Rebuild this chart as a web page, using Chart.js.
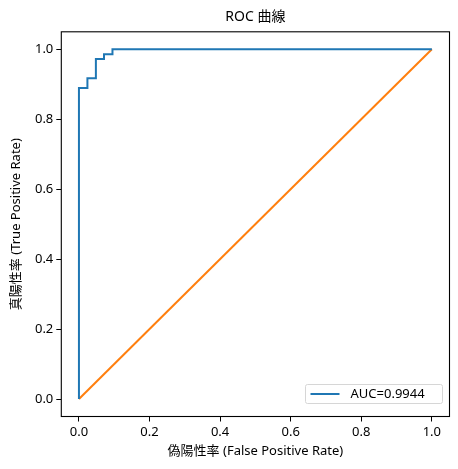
<!DOCTYPE html>
<html>
<head>
<meta charset="utf-8">
<script src="https://cdn.jsdelivr.net/npm/chart.js@4"></script>
<style>
  html, body { margin: 0; padding: 0; background: #fff; }
  #wrap { width: 458px; height: 469px; position: relative; }
</style>
</head>
<body>
<div id="wrap"><canvas id="roc"></canvas></div>
<script>
// ROC data
const fprValues = [0, 0, 0.024, 0.024, 0.048, 0.048, 0.071, 0.071, 0.095, 0.095, 1];
const tprValues = [0, 0.889, 0.889, 0.917, 0.917, 0.972, 0.972, 0.986, 0.986, 1, 1];
const chanceX = [0, 1];
const chanceY = [0, 1];
const tickValues = [0, 0.2, 0.4, 0.6, 0.8, 1.0];
const aucLabel = "AUC=0.9944";
const chartTitle = "ROC 曲線";

const FONT = "'Noto Sans', 'Noto Sans CJK JP', sans-serif";

const toPoints = (xs, ys) => xs.map((x, i) => ({ x: x, y: ys[i] }));

// title over the plot area, box round it, legend in lower right
const frameAndLegend = {
  id: "frameAndLegend",
  afterDraw(chart) {
    const { ctx, chartArea } = chart;
    ctx.save();
    ctx.fillStyle = "#000";
    ctx.font = "14px " + FONT;
    ctx.textAlign = "center";
    ctx.textBaseline = "middle";
    ctx.fillText(chartTitle, (chartArea.left + chartArea.right) / 2, 17);

    ctx.strokeStyle = "#000";
    ctx.lineWidth = 1.1;
    ctx.strokeRect(chartArea.left, chartArea.top,
      chartArea.right - chartArea.left, chartArea.bottom - chartArea.top);

    const ds = chart.data.datasets[0];
    const w = 137, h = 19;
    const x = chartArea.right - 7 - w;
    const y = chartArea.bottom - 13 - h;
    ctx.fillStyle = "rgba(255,255,255,0.8)";
    ctx.strokeStyle = "#d6d6d6";
    ctx.lineWidth = 1;
    ctx.beginPath();
    ctx.roundRect(x, y, w, h, 2);
    ctx.fill();
    ctx.stroke();
    ctx.strokeStyle = ds.borderColor;
    ctx.lineWidth = 2;
    ctx.beginPath();
    ctx.moveTo(x + 5, y + h / 2);
    ctx.lineTo(x + 34, y + h / 2);
    ctx.stroke();
    ctx.fillStyle = "#000";
    ctx.font = "13px " + FONT;
    ctx.textAlign = "left";
    ctx.fillText(ds.label, x + 45, y + h / 2 + 0.5);
    ctx.restore();
  }
};

const axisCommon = {
  type: "linear",
  min: -0.05,
  max: 1.05,
  border: { display: false },
  grid: {
    drawOnChartArea: false,
    drawTicks: true,
    tickLength: 5,
    tickColor: "#000",
    tickWidth: 1
  },
  afterBuildTicks: (scale) => {
    scale.ticks = tickValues.map(v => ({ value: v }));
  },
  ticks: {
    color: "#000",
    padding: 3,
    font: { family: FONT, size: 13 },
    callback: (v) => Number(v).toFixed(1)
  }
};

new Chart(document.getElementById("roc"), {
  type: "scatter",
  data: {
    datasets: [
      {
        label: aucLabel,
        data: toPoints(fprValues, tprValues),
        showLine: true,
        borderColor: "#1f77b4",
        borderWidth: 2,
        pointRadius: 0,
        tension: 0
      },
      {
        label: "",
        data: toPoints(chanceX, chanceY),
        showLine: true,
        borderColor: "#ff7f0e",
        borderWidth: 2,
        pointRadius: 0,
        tension: 0
      }
    ]
  },
  options: {
    responsive: true,
    maintainAspectRatio: false,
    animation: false,
    layout: { padding: { left: 0, right: 8.5, top: 31.8, bottom: 0 } },
    plugins: {
      legend: { display: false },
      tooltip: { enabled: false },
      title: { display: false }
    },
    scales: {
      x: {
        ...axisCommon,
        afterFit: (scale) => { scale.height = 52.5; },
        title: {
          display: true,
          text: "偽陽性率 (False Positive Rate)",
          color: "#000",
          font: { family: FONT, size: 13 },
          padding: { top: 0, bottom: 10 }
        }
      },
      y: {
        ...axisCommon,
        afterFit: (scale) => { scale.width = 61.3; },
        title: {
          display: true,
          text: "真陽性率 (True Positive Rate)",
          color: "#000",
          font: { family: FONT, size: 13 },
          padding: { top: 8, bottom: 0 }
        }
      }
    }
  },
  plugins: [frameAndLegend]
});
</script>
</body>
</html>
